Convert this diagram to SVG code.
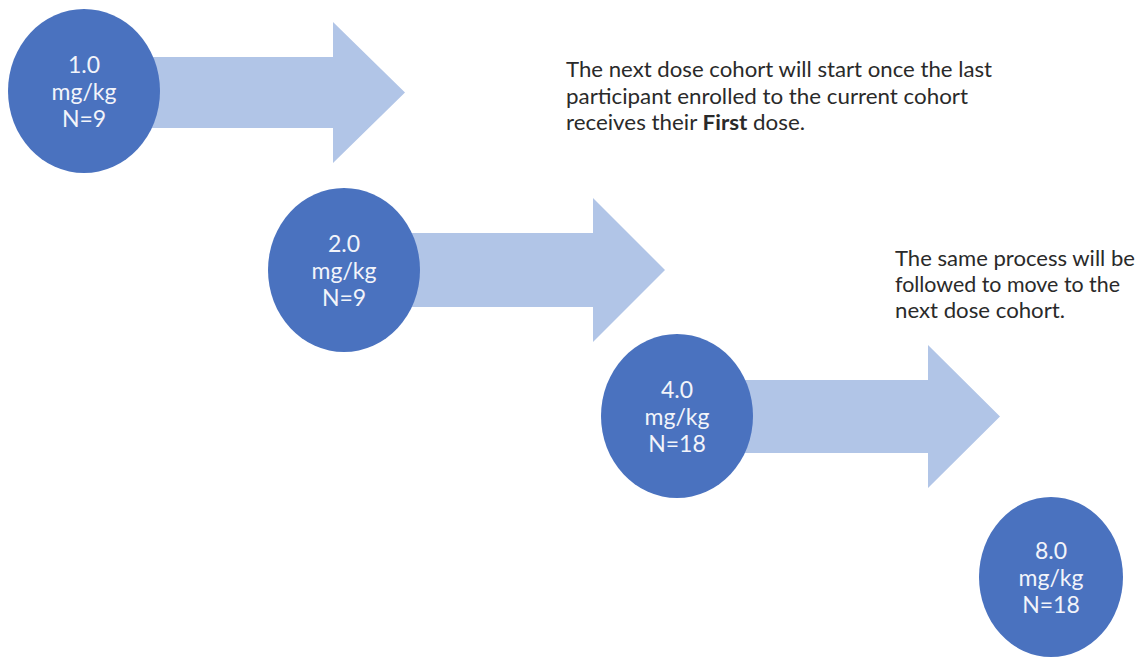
<svg xmlns="http://www.w3.org/2000/svg" width="1141" height="660" viewBox="0 0 1141 660">
  <style>
    .arrow { fill: #B1C5E7; }
    .node { fill: #4A72BF; }
    .lbl { font-family: Lato, "Open Sans", "Liberation Sans", sans-serif; font-size: 23px; fill: #F2F4FA; text-anchor: middle; }
    .note { font-family: Lato, "Open Sans", "Liberation Sans", sans-serif; font-size: 21px; fill: #2A2A2A; }
  </style>
  <rect width="1141" height="660" fill="#FFFFFF"/>
  <g id="connectors">
    <polygon class="arrow" points="140,57 333,57 333,22 405,92.5 333,163 333,128 140,128"/>
    <polygon class="arrow" points="400,233 593,233 593,198 665,270 593,342 593,307 400,307"/>
    <polygon class="arrow" points="733,380 928,380 928,345 1000,416.5 928,488 928,453 733,453"/>
  </g>
  <g id="node-1">
    <ellipse class="node" cx="84" cy="91" rx="76" ry="82"/>
    <text class="lbl" x="84" y="73">1.0</text>
    <text class="lbl" x="84" y="100">mg/kg</text>
    <text class="lbl" x="84" y="127">N=9</text>
  </g>
  <g id="node-2">
    <ellipse class="node" cx="344" cy="270" rx="76" ry="82"/>
    <text class="lbl" x="344" y="252">2.0</text>
    <text class="lbl" x="344" y="279">mg/kg</text>
    <text class="lbl" x="344" y="306">N=9</text>
  </g>
  <g id="node-3">
    <ellipse class="node" cx="677" cy="416" rx="76" ry="82"/>
    <text class="lbl" x="677" y="398">4.0</text>
    <text class="lbl" x="677" y="425">mg/kg</text>
    <text class="lbl" x="677" y="452">N=18</text>
  </g>
  <g id="node-4">
    <ellipse class="node" cx="1051" cy="577" rx="72" ry="80"/>
    <text class="lbl" x="1051" y="559">8.0</text>
    <text class="lbl" x="1051" y="586">mg/kg</text>
    <text class="lbl" x="1051" y="613">N=18</text>
  </g>
  <g id="note-1">
    <text class="note" x="566" y="77" textLength="426" lengthAdjust="spacingAndGlyphs">The next dose cohort will start once the last</text>
    <text class="note" x="566" y="104" textLength="402" lengthAdjust="spacingAndGlyphs">participant enrolled to the current cohort</text>
    <text class="note" x="566" y="130" textLength="239" lengthAdjust="spacingAndGlyphs">receives their <tspan font-weight="bold">First</tspan> dose.</text>
  </g>
  <g id="note-2">
    <text class="note" x="895" y="266" font-size="22" textLength="240" lengthAdjust="spacingAndGlyphs">The same process will be</text>
    <text class="note" x="895" y="292" font-size="22" textLength="225" lengthAdjust="spacingAndGlyphs">followed to move to the</text>
    <text class="note" x="895" y="318" font-size="22" textLength="170" lengthAdjust="spacingAndGlyphs">next dose cohort.</text>
  </g>
</svg>
